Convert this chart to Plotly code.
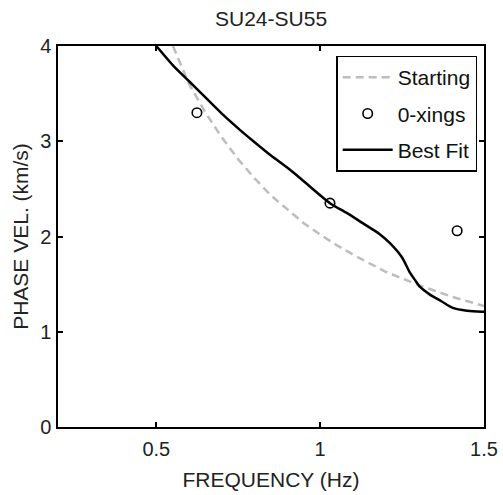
import plotly.graph_objects as go

# Starting model (gray dashed)
start_f = [0.52, 0.55, 0.6, 0.65, 0.7, 0.75, 0.8, 0.85, 0.9, 0.95, 1.0, 1.05, 1.1, 1.15,
           1.2, 1.25, 1.3, 1.35, 1.4, 1.45, 1.5]
start_v = [4.25, 4.0, 3.6, 3.3, 3.04, 2.81, 2.61, 2.43, 2.28, 2.14, 2.02, 1.91, 1.81, 1.72,
           1.63, 1.56, 1.49, 1.43, 1.37, 1.32, 1.27]

# Zero crossings (open circles)
xing_f = [0.624, 1.03, 1.418]
xing_v = [3.30, 2.35, 2.06]

# Best fit (solid black)
best_f = [0.50, 0.55, 0.60, 0.65, 0.70, 0.755, 0.80, 0.85, 0.908, 0.95, 1.03, 1.08, 1.13,
          1.18, 1.213, 1.25, 1.274, 1.29, 1.305, 1.335, 1.37, 1.405, 1.448, 1.494, 1.5]
best_v = [4.0, 3.8, 3.63, 3.46, 3.29, 3.12, 2.99, 2.85, 2.70, 2.58, 2.35, 2.25, 2.14,
          2.03, 1.93, 1.78, 1.62, 1.54, 1.47, 1.39, 1.32, 1.25, 1.22, 1.21, 1.21]

title_text = "SU24-SU55"
x_title = "FREQUENCY (Hz)"
y_title = "PHASE VEL. (km/s)"

FONT = "Liberation Sans, Arial, Helvetica"
TXT = "#222"

fig = go.Figure()
fig.add_trace(go.Scatter(x=start_f, y=start_v, mode="lines", name="Starting",
                         legendgroup="a",
                         line=dict(color="#bdbdbd", width=2.5, dash="8px,5px")))
fig.add_trace(go.Scatter(x=xing_f, y=xing_v, mode="markers", name="0-xings",
                         legendgroup="b",
                         marker=dict(symbol="circle-open", size=9.5, color="black",
                                     line=dict(width=1.6, color="black"))))
fig.add_trace(go.Scatter(x=best_f, y=best_v, mode="lines", name="Best Fit",
                         legendgroup="c",
                         line=dict(color="black", width=2.5, shape="spline", smoothing=0.6)))

axis_common = dict(showline=True, linecolor="black", linewidth=1.5, mirror="ticks",
                   ticks="inside", ticklen=5, tickwidth=1.5, tickcolor="black",
                   showgrid=False, zeroline=False, automargin=False,
                   tickfont=dict(family=FONT, size=20, color=TXT))

fig.update_xaxes(range=[0.2, 1.5], tickvals=[0.5, 1, 1.5], ticktext=["0.5", "1", "1.5"],
                 ticklabelstandoff=3,
                 title=dict(text=x_title, standoff=14,
                            font=dict(family=FONT, size=21, color=TXT)),
                 **axis_common)
fig.update_yaxes(range=[0, 4], tickvals=[0, 1, 2, 3, 4],
                 ticklabelstandoff=1,
                 title=dict(text=y_title, standoff=6,
                            font=dict(family=FONT, size=21, color=TXT)),
                 **axis_common)

fig.add_annotation(text=title_text, xref="paper", yref="paper",
                   x=0.5, y=1, xanchor="center", yanchor="middle",
                   yshift=28, showarrow=False,
                   font=dict(family=FONT, size=21, color=TXT))

fig.update_layout(
    width=503, height=495,
    margin=dict(l=58, r=19, t=46, b=68, autoexpand=False),
    paper_bgcolor="white", plot_bgcolor="white",
    legend=dict(x=0.984, y=0.975, xanchor="right", yanchor="top",
                bordercolor="black", borderwidth=1.5, bgcolor="white",
                font=dict(family=FONT, size=21, color="#111"),
                itemwidth=50, tracegroupgap=6),
    showlegend=True,
)

fig.write_html("out.html")
